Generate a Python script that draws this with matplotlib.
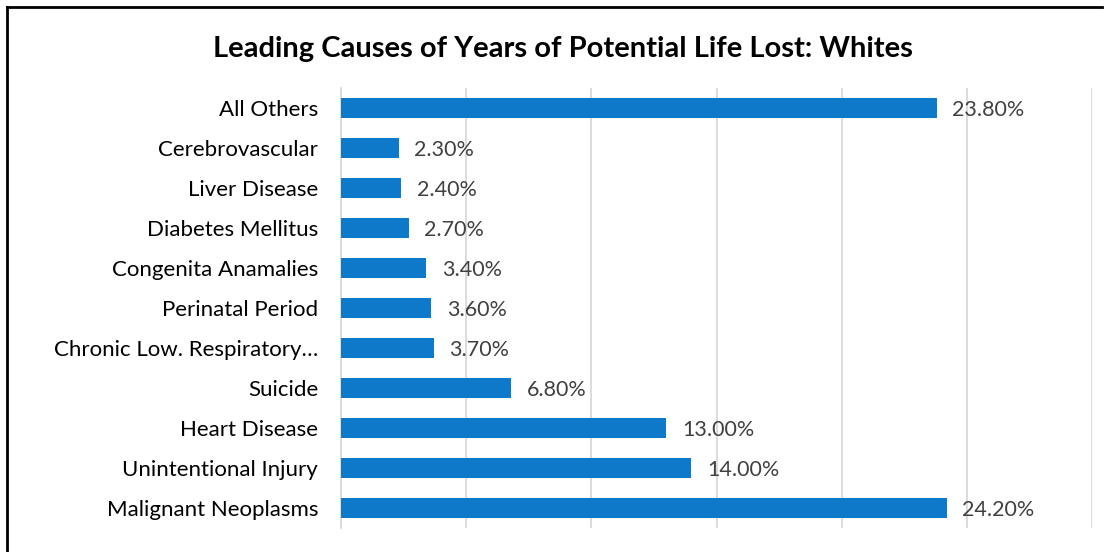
import matplotlib.pyplot as plt

plt.rcParams['font.family'] = ['Lato', 'DejaVu Sans']

causes = ["Malignant Neoplasms", "Unintentional Injury", "Heart Disease", "Suicide",
          "Chronic Low. Respiratory\u2026", "Perinatal Period", "Congenita Anamalies",
          "Diabetes Mellitus", "Liver Disease", "Cerebrovascular", "All Others"]
shares = [24.2, 14.0, 13.0, 6.8, 3.7, 3.6, 3.4, 2.7, 2.4, 2.3, 23.8]

fig = plt.figure(figsize=(11.1, 5.52), dpi=100)
ax = fig.add_axes([341 / 1110, 24 / 552, (1092 - 341) / 1110, 440 / 552])

y = range(len(causes))
ax.barh(y, shares, height=0.5, color='#0E78C9', zorder=3)
for i, v in zip(y, shares):
    ax.text(v + 0.62, i - 0.04, f"{v:.2f}%", va='center', ha='left', fontsize=15.5, color='#404040')

ax.set_xlim(0, 30)
ax.set_ylim(-0.5, len(causes) - 0.5)
ax.set_xticks(range(0, 31, 5))
ax.set_xticklabels([])
ax.tick_params(axis='x', length=0)
ax.grid(axis='x', color='#D9D9D9', linewidth=1.3, zorder=0)
ax.set_yticks(list(y))
ax.set_yticklabels(causes, fontsize=16, color='#000000')
ax.tick_params(axis='y', length=0, pad=16.5)
for s in ['top', 'right', 'bottom']:
    ax.spines[s].set_visible(False)
ax.spines['left'].set_color('#D9D9D9')
ax.spines['left'].set_linewidth(1.3)

fig.text(563 / 1110, 1 - 49 / 552, "Leading Causes of Years of Potential Life Lost: Whites",
         ha='center', va='center', fontsize=21, fontweight='bold')

# frame edges along the top and left
fig.add_artist(plt.Line2D([7 / 1110, 7 / 1110], [0, 1 - 7 / 552], color='black', linewidth=2))
fig.add_artist(plt.Line2D([7 / 1110, 1102 / 1110], [1 - 7 / 552, 1 - 7 / 552], color='black', linewidth=2))

fig.savefig('out.png', dpi=100, facecolor='white')
